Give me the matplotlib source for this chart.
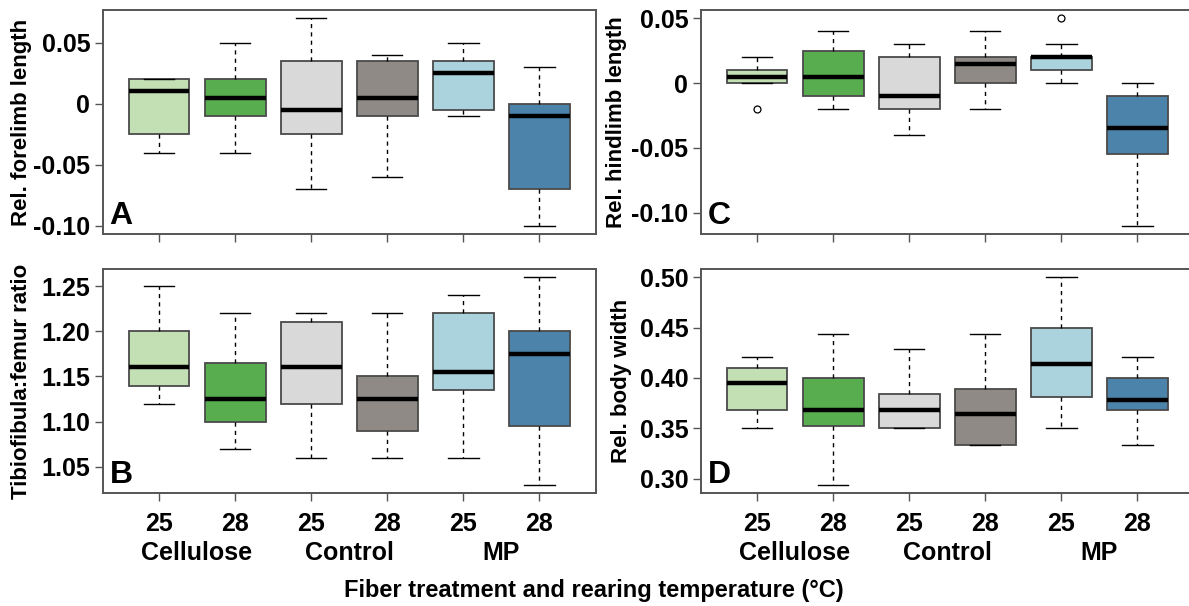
import matplotlib
matplotlib.use("Agg")
import matplotlib.pyplot as plt
import matplotlib.transforms as mtransforms

plt.rcParams['font.family'] = ['Liberation Sans', 'DejaVu Sans']
plt.rcParams['font.weight'] = 'bold'

# ---------------- data ----------------
temps = ["25", "28", "25", "28", "25", "28"]
groups = ["Cellulose", "Control", "MP"]
box_colors = ["#c3e0b5", "#58ad4f", "#d9d9d9", "#8f8a85", "#aad3dd", "#4b83aa"]

# Panel A: Rel. forelimb length
a_low = [-0.04, -0.04, -0.07, -0.06, -0.01, -0.10]
a_q1 = [-0.025, -0.01, -0.025, -0.01, -0.005, -0.07]
a_med = [0.01, 0.005, -0.005, 0.005, 0.025, -0.01]
a_q3 = [0.02, 0.02, 0.035, 0.035, 0.035, 0.0]
a_high = [0.02, 0.05, 0.07, 0.04, 0.05, 0.03]
a_out = [[], [], [], [], [], []]
a_ticks = [-0.10, -0.05, 0.0, 0.05]
a_ticklabels = ["-0.10", "-0.05", "0", "0.05"]

# Panel B: Tibiofibula:femur ratio
b_low = [1.12, 1.07, 1.06, 1.06, 1.06, 1.03]
b_q1 = [1.14, 1.10, 1.12, 1.09, 1.135, 1.095]
b_med = [1.16, 1.125, 1.16, 1.125, 1.155, 1.175]
b_q3 = [1.20, 1.165, 1.21, 1.15, 1.22, 1.20]
b_high = [1.25, 1.22, 1.22, 1.22, 1.24, 1.26]
b_out = [[], [], [], [], [], []]
b_ticks = [1.05, 1.10, 1.15, 1.20, 1.25]
b_ticklabels = ["1.05", "1.10", "1.15", "1.20", "1.25"]

# Panel C: Rel. hindlimb length
c_low = [0.0, -0.02, -0.04, -0.02, 0.0, -0.11]
c_q1 = [0.0, -0.01, -0.02, 0.0, 0.01, -0.055]
c_med = [0.005, 0.005, -0.01, 0.015, 0.02, -0.035]
c_q3 = [0.01, 0.025, 0.02, 0.02, 0.02, -0.01]
c_high = [0.02, 0.04, 0.03, 0.04, 0.03, 0.0]
c_out = [[-0.02], [], [], [], [0.05], []]
c_ticks = [-0.10, -0.05, 0.0, 0.05]
c_ticklabels = ["-0.10", "-0.05", "0", "0.05"]

# Panel D: Rel. body width
d_low = [0.35, 0.294, 0.35, 0.333, 0.35, 0.333]
d_q1 = [0.368, 0.352, 0.35, 0.333, 0.381, 0.368]
d_med = [0.395, 0.368, 0.368, 0.364, 0.414, 0.378]
d_q3 = [0.41, 0.40, 0.384, 0.389, 0.45, 0.40]
d_high = [0.421, 0.444, 0.429, 0.444, 0.50, 0.421]
d_out = [[], [], [], [], [], []]
d_ticks = [0.30, 0.35, 0.40, 0.45, 0.50]
d_ticklabels = ["0.30", "0.35", "0.40", "0.45", "0.50"]

W, H = 1189, 606
fig = plt.figure(figsize=(W / 100, H / 100), dpi=100)
fig.patch.set_facecolor("white")

def px_axes(left, top, right, bottom):
    return fig.add_axes([left / W, 1 - bottom / H, (right - left) / W, (bottom - top) / H])

frame_col = "#555555"

def draw_panel(ax, low, q1, med, q3, high, out, ticks, ticklabels, ylabel, letter,
               show_x, ylabel_x):
    stats = []
    for i in range(len(med)):
        stats.append(dict(whislo=low[i], q1=q1[i], med=med[i], q3=q3[i],
                          whishi=high[i], fliers=out[i]))
    pos = list(range(1, len(med) + 1))
    bp = ax.bxp(stats, positions=pos, widths=0.8, patch_artist=True,
                showfliers=True,
                boxprops=dict(edgecolor="#4a4a4a", linewidth=1.3),
                medianprops=dict(color="black", linewidth=3.2, solid_capstyle="butt"),
                whiskerprops=dict(color="black", linewidth=1.0, linestyle=(0, (3, 3))),
                capprops=dict(color="black", linewidth=1.0),
                capwidths=0.4,
                flierprops=dict(marker="o", markersize=5, markerfacecolor="none",
                                markeredgecolor="black", markeredgewidth=0.9))
    for patch, col in zip(bp["boxes"], box_colors):
        patch.set_facecolor(col)
    allv = low + high + [v for o in out for v in o]
    lo, hi = min(allv), max(allv)
    r = hi - lo
    ax.set_ylim(lo - 0.04 * r, hi + 0.04 * r)
    ax.set_xlim(0.26, 6.74)
    ax.set_yticks(ticks)
    ax.set_yticklabels(ticklabels, fontsize=18, fontweight="bold")
    ax.set_xticks(pos)
    if show_x:
        ax.set_xticklabels(temps, fontsize=18, fontweight="bold")
    else:
        ax.set_xticklabels([])
    ax.tick_params(axis="both", direction="out", length=6, width=1.0, color=frame_col,
                   pad=3)
    ax.tick_params(axis="x", pad=8)
    for sp in ax.spines.values():
        sp.set_color(frame_col)
        sp.set_linewidth(1.4)
    ax.set_ylabel(ylabel, fontsize=16, fontweight="bold", va="center")
    ax.yaxis.set_label_coords(ylabel_x, 0.5)
    ax.text(0.014, 0.015, letter, transform=ax.transAxes, fontsize=23,
            fontweight="bold", ha="left", va="bottom")
    if show_x:
        trans = mtransforms.blended_transform_factory(ax.transData, ax.transAxes)
        for gi, g in enumerate(groups):
            ax.text(2 * gi + 1.5, -0.27, g, transform=trans, fontsize=18,
                    fontweight="bold", ha="center", va="center")

axA = px_axes(102.7, 10, 595.7, 234)
axB = px_axes(102.7, 269, 595.7, 493)
axC = px_axes(700.7, 10, 1193.7, 234)
axD = px_axes(700.7, 269, 1193.7, 493)

draw_panel(axA, a_low, a_q1, a_med, a_q3, a_high, a_out, a_ticks, a_ticklabels,
           "Rel. forelimb length", "A", False, -0.165)
draw_panel(axB, b_low, b_q1, b_med, b_q3, b_high, b_out, b_ticks, b_ticklabels,
           "Tibiofibula:femur ratio", "B", True, -0.165)
draw_panel(axC, c_low, c_q1, c_med, c_q3, c_high, c_out, c_ticks, c_ticklabels,
           "Rel. hindlimb length", "C", False, -0.17)
draw_panel(axD, d_low, d_q1, d_med, d_q3, d_high, d_out, d_ticks, d_ticklabels,
           "Rel. body width", "D", True, -0.16)

fig.text(594 / W, 1 - 590 / H, "Fiber treatment and rearing temperature (\u00b0C)",
         fontsize=17, fontweight="bold", ha="center", va="center")

fig.savefig("out.png", dpi=100, facecolor="white")
